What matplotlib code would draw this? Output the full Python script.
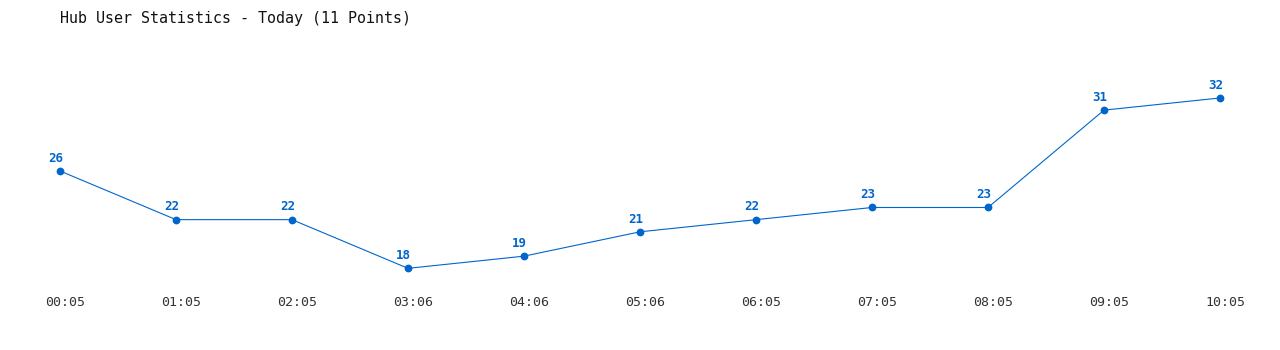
import matplotlib
matplotlib.use('Agg')
import matplotlib.pyplot as plt
import matplotlib.transforms as mtransforms

# --- DADOS ---
horarios = ['00:05', '01:05', '02:05', '03:06', '04:06', '05:06',
            '06:05', '07:05', '08:05', '09:05', '10:05']
usuarios = [26, 22, 22, 18, 19, 21, 22, 23, 23, 31, 32]

TITULO = 'Hub User Statistics - Today (11 Points)'
AZUL = '#0066cc'
W, H = 1280, 350

fig = plt.figure(figsize=(W / 100, H / 100), dpi=100)
fig.patch.set_facecolor('white')

# eixo posicionado em pixels: x de 60 a 1220, y de 17 a 33
ax = fig.add_axes([60 / W, 1 - 280.5 / H, 1160 / W, (280.5 - 85.8) / H])
x = list(range(len(usuarios)))
ax.plot(x, usuarios, color=AZUL, linewidth=0.8, marker='o', markersize=4.6,
        clip_on=False, zorder=3)
ax.set_xlim(0, len(usuarios) - 1)
ax.set_ylim(17, 33)

for xi, v in zip(x, usuarios):
    ax.annotate(str(v), (xi, v), xytext=(-3, 4.5), textcoords='offset points',
                ha='center', va='bottom', color=AZUL, fontsize=9,
                fontweight='bold', family='DejaVu Sans Mono')

for s in ax.spines.values():
    s.set_visible(False)
ax.set_yticks([])
ax.set_xticks(x)
ax.set_xticklabels(horarios, family='DejaVu Sans Mono', fontsize=9.5, color='#333333')
ax.tick_params(axis='x', length=0, pad=11)
# rótulos levemente deslocados para a direita, como no original
desloc = mtransforms.ScaledTranslation(5 / 100, 0, fig.dpi_scale_trans)
for lbl in ax.get_xticklabels():
    lbl.set_transform(lbl.get_transform() + desloc)

fig.text(60 / W, 1 - 18 / H, TITULO, ha='left', va='center',
         family='DejaVu Sans Mono', fontsize=10.8, color='#111111')

fig.savefig('out.png', dpi=100, facecolor='white')
